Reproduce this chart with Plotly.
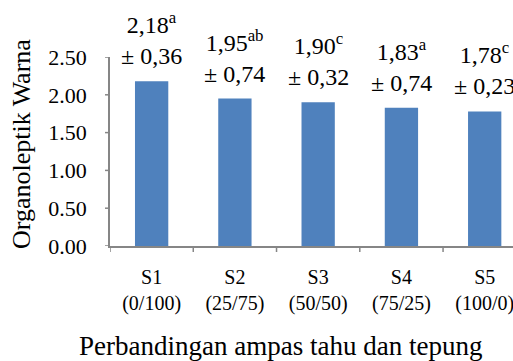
import plotly.graph_objects as go

# Colour scores for each ratio of tofu pulp to flour
samples = ["S1", "S2", "S3", "S4", "S5"]
ratios = ["(0/100)", "(25/75)", "(50/50)", "(75/25)", "(100/0)"]
means = [2.18, 1.95, 1.90, 1.83, 1.78]
std_devs = ["0,36", "0,74", "0,32", "0,74", "0,23"]
letters = ["a", "ab", "c", "a", "c"]
y_ticks = [0.0, 0.5, 1.0, 1.5, 2.0, 2.5]

FONT = "Liberation Serif"
BAR = "#4F81BD"
AXIS = "#868686"
PLOT_W, PLOT_H = 403, 189

cats = [f"{s}<br>{r}" for s, r in zip(samples, ratios)]

fig = go.Figure(
    go.Bar(
        x=cats,
        y=means,
        marker=dict(color=BAR, line=dict(width=0)),
        width=0.4,
        cliponaxis=False,
        hoverinfo="skip",
    )
)

for c, m, sd, lt in zip(cats, means, std_devs, letters):
    label = f"{m:.2f}".replace(".", ",")
    fig.add_annotation(
        x=c, y=m, xref="x", yref="y",
        text=f"{label}<sup>{lt}</sup><br>± {sd}",
        showarrow=False, yanchor="bottom", yshift=10,
        align="center",
        font=dict(family=FONT, size=24, color="#000000"),
    )

# category boundary tick marks below the x axis
for i in range(len(cats)):
    fig.add_shape(
        type="line", xref="x", yref="paper",
        x0=i - 0.5, x1=i - 0.5, y0=0, y1=-6 / PLOT_H,
        line=dict(color=AXIS, width=1.5),
    )

# short tick marks left of the y axis
for v in y_ticks:
    fig.add_shape(
        type="line", xref="paper", yref="y",
        x0=0, x1=-5 / PLOT_W, y0=v, y1=v,
        line=dict(color=AXIS, width=1.5),
    )

fig.add_annotation(
    x=0.424, y=-0.53, xref="paper", yref="paper",
    text="Perbandingan ampas tahu dan tepung",
    showarrow=False, xanchor="center", yanchor="middle",
    font=dict(family=FONT, size=27, color="#000000"),
)
fig.add_annotation(
    x=-0.218, y=0.54, xref="paper", yref="paper",
    text="Organoleptik Warna", textangle=-90,
    showarrow=False, xanchor="center", yanchor="middle",
    font=dict(family=FONT, size=26, color="#000000"),
)

fig.update_layout(
    width=513, height=361,
    margin=dict(l=110, r=0, t=57, b=115),
    paper_bgcolor="white", plot_bgcolor="white",
    showlegend=False,
    font=dict(family=FONT, color="#000000"),
    xaxis=dict(
        type="category",
        range=[-0.5, 4.34],
        showline=True, linecolor=AXIS, linewidth=1.5,
        ticks="outside", ticklen=12, tickcolor="rgba(0,0,0,0)",
        showgrid=False, zeroline=False,
        tickfont=dict(family=FONT, size=20, color="#000000"),
    ),
    yaxis=dict(
        range=[0, 2.5],
        tickvals=y_ticks,
        ticktext=[f"{v:.2f}" for v in y_ticks],
        showline=True, linecolor=AXIS, linewidth=1.5,
        ticks="outside", ticklen=17, tickcolor="rgba(0,0,0,0)",
        showgrid=False, zeroline=False,
        tickfont=dict(family=FONT, size=22, color="#000000"),
    ),
)

fig.write_html("out.html")
